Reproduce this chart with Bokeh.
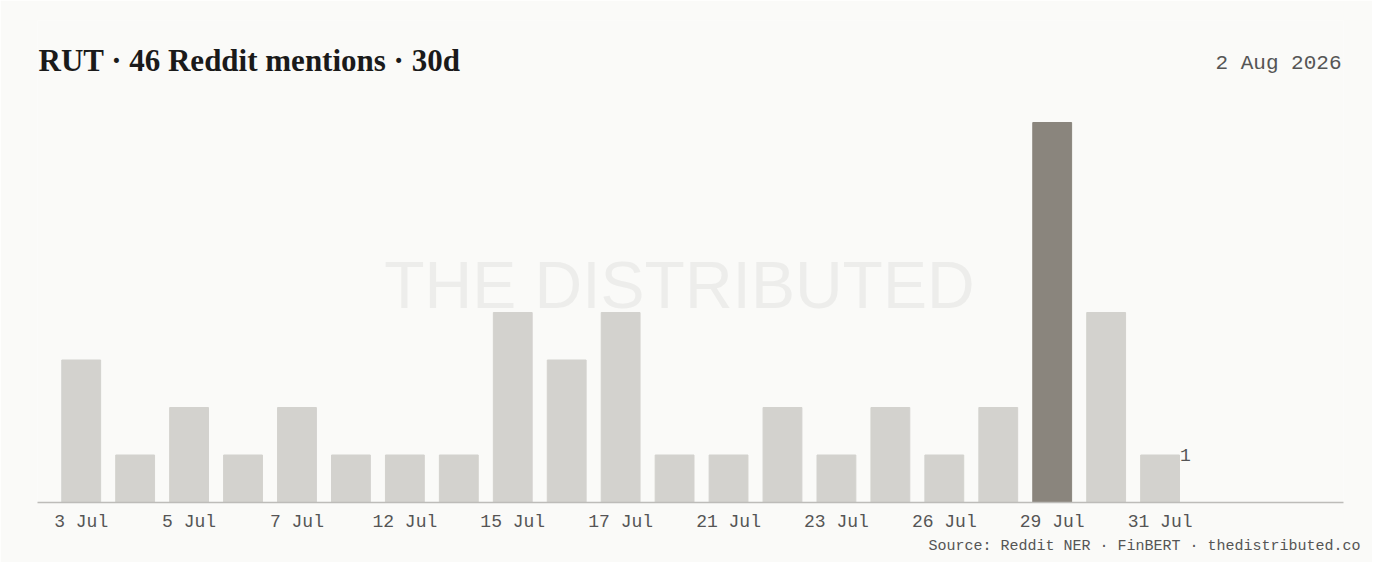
from bokeh.plotting import figure
from bokeh.models import Label, FixedTicker, Range1d, ColumnDataSource, Title
from bokeh.embed import file_html
from bokeh.resources import INLINE

# ---- data ----
dates = ["3 Jul", "4 Jul", "5 Jul", "6 Jul", "7 Jul", "9 Jul", "12 Jul", "13 Jul",
         "15 Jul", "16 Jul", "17 Jul", "19 Jul", "21 Jul", "22 Jul", "23 Jul", "25 Jul",
         "26 Jul", "28 Jul", "29 Jul", "30 Jul", "31 Jul"]
mentions = [3, 1, 2, 1, 2, 1, 1, 1, 4, 3, 4, 1, 1, 2, 1, 2, 1, 2, 8, 4, 1]
peak_date = "29 Jul"
title_text = "RUT · 46 Reddit mentions · 30d"
date_text = "2 Aug 2026"
source_text = "Source: Reddit NER · FinBERT · thedistributed.co"
watermark = "THE DISTRIBUTED"

BG = "#fafaf8"
BAR = "#d3d2ce"
PEAK = "#8a857d"
TXT = "#555555"
MONO = "Liberation Mono"

idx = list(range(len(dates)))
colors = [PEAK if d == peak_date else BAR for d in dates]
src = ColumnDataSource(dict(x=idx, top=mentions, color=colors))

W, H = 1372, 562
FL, FR, FT, FB = 37, 1343, 20, 502   # frame edges in canvas px
p = figure(width=W, height=H, output_backend="svg", toolbar_location=None,
           x_range=Range1d(-0.81, 23.4), y_range=Range1d(0, (FB - FT) / 47.5),
           min_border_left=FL, min_border_right=W - FR, min_border_top=FT,
           min_border_bottom=H - FB)
p.background_fill_color = BG
p.border_fill_color = BG
p.outline_line_color = None
p.grid.visible = False
p.yaxis.visible = False

wm = Label(x=11.09, y=4.57, text=watermark, text_font="Liberation Sans", text_font_size="66px",
           text_color="#ededeb", text_align="center", text_baseline="middle", level="underlay")
p.add_layout(wm)

p.vbar(x="x", top="top", width=0.72, color="color", source=src)

last = len(dates) - 1
p.text(x=[idx[last] + 0.37], y=[mentions[last]], text=[str(mentions[last])],
       text_font={"value": MONO}, text_font_size="18px", text_color=TXT,
       text_align="left", text_baseline="middle")

ax = p.xaxis[0]
ax.ticker = FixedTicker(ticks=idx[::2])
ax.major_label_overrides = {i: dates[i] for i in idx[::2]}
ax.axis_line_color = "#bdbcb9"
ax.axis_line_width = 1.5
ax.major_tick_line_color = None
ax.minor_tick_line_color = None
ax.major_label_text_font = MONO
ax.major_label_text_font_size = "18px"
ax.major_label_text_color = TXT
ax.major_label_standoff = 3

p.add_layout(Label(x=1, y=FB - 60, x_units="screen", y_units="screen", text=title_text,
                   text_font="Liberation Serif", text_font_style="bold", text_font_size="31px",
                   text_color="#1a1a1a", text_baseline="middle"))
p.add_layout(Label(x=1341 - FL, y=FB - 63, x_units="screen", y_units="screen", text=date_text,
                   text_font=MONO, text_font_size="21px", text_color=TXT,
                   text_align="right", text_baseline="middle"))
p.add_layout(Title(text=source_text, align="right", offset=-17, standoff=2,
                   text_font=MONO, text_font_size="15px", text_color=TXT,
                   text_font_style="normal"), "below")

open("out.html", "w").write(file_html(p, INLINE))
